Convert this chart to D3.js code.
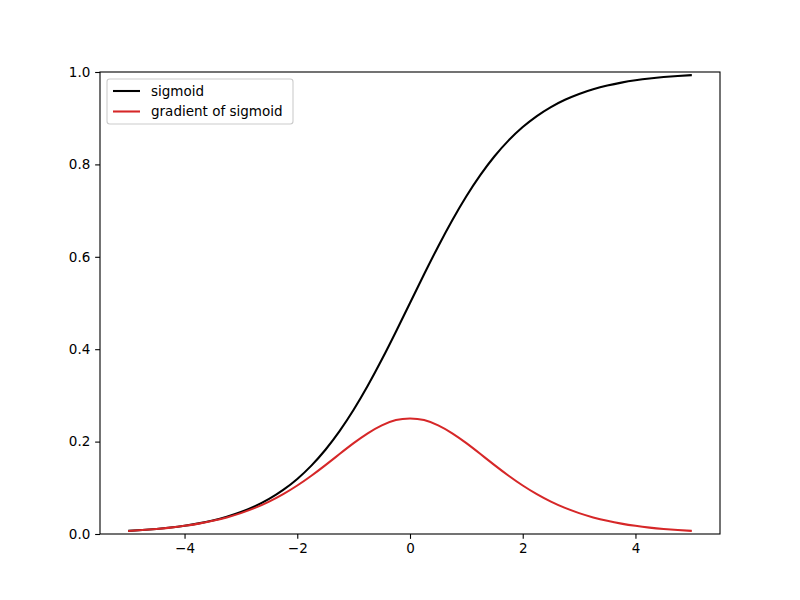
<!DOCTYPE html>
<html><head><meta charset="utf-8">
<script src="https://cdn.jsdelivr.net/npm/d3@7"></script>
<style>body{margin:0;background:#fff}svg text{font-family:"DejaVu Sans",sans-serif}</style>
</head><body>
<svg id="c" width="800" height="600"></svg>
<script>
const xs = [-5,-4.75,-4.5,-4.25,-4,-3.75,-3.5,-3.25,-3,-2.75,-2.5,-2.25,-2,-1.75,-1.5,-1.25,-1,-0.75,-0.5,-0.25,0,0.25,0.5,0.75,1,1.25,1.5,1.75,2,2.25,2.5,2.75,3,3.25,3.5,3.75,4,4.25,4.5,4.75,5];
const sigmoidVals = [0.00669,0.00858,0.01099,0.01406,0.01799,0.02298,0.02931,0.03732,0.04743,0.06008,0.07586,0.09535,0.11920,0.14805,0.18243,0.22270,0.26894,0.32082,0.37754,0.43782,0.5,0.56218,0.62246,0.67918,0.73106,0.77730,0.81757,0.85195,0.88080,0.90465,0.92414,0.93992,0.95257,0.96268,0.97069,0.97702,0.98201,0.98594,0.98901,0.99142,0.99331];
const gradientVals = [0.00665,0.00851,0.01087,0.01386,0.01766,0.02245,0.02845,0.03593,0.04518,0.05647,0.07010,0.08626,0.10499,0.12614,0.14915,0.17310,0.19661,0.21790,0.23500,0.24661,0.25,0.24661,0.23500,0.21790,0.19661,0.17310,0.14915,0.12614,0.10499,0.08626,0.07010,0.05647,0.04518,0.03593,0.02845,0.02245,0.01766,0.01386,0.01087,0.00851,0.00665];
const seriesNames = ["sigmoid","gradient of sigmoid"];
const seriesColors = ["#000000","#d62728"];
const xTicks = [-4,-2,0,2,4];
const yTicks = [0,0.2,0.4,0.6,0.8,1.0];

const L=100,R=720,T=72,B=534;
const svg=d3.select("#c");
const x=d3.scaleLinear().domain([-5.5,5.5]).range([L,R]);
const y=d3.scaleLinear().domain([0,1]).range([B,T]);
const fmtX=d=>d<0?"\u2212"+Math.abs(d):String(d);

const xAxis=svg.append("g").attr("transform",`translate(0,${B})`)
  .call(d3.axisBottom(x).tickValues(xTicks).tickFormat(fmtX).tickSize(4.86).tickPadding(4.86));
const yAxis=svg.append("g").attr("transform",`translate(${L},0)`)
  .call(d3.axisLeft(y).tickValues(yTicks).tickFormat(d3.format(".1f")).tickSize(4.86).tickPadding(4.86));
[xAxis,yAxis].forEach(a=>{a.select(".domain").remove();a.selectAll("text").attr("font-size","13.5px").attr("fill","#000").attr("font-family","DejaVu Sans");a.selectAll("line").attr("stroke","#000").attr("stroke-width",1.1);});

const series=[sigmoidVals,gradientVals];
const line=d3.line().x((d,i)=>x(xs[i])).y(d=>y(d)).curve(d3.curveNatural);
series.forEach((s,k)=>{
  svg.append("path").datum(s).attr("d",line).attr("fill","none").attr("stroke",seriesColors[k]).attr("stroke-width",2.08);
});

svg.append("rect").attr("x",L).attr("y",T).attr("width",R-L).attr("height",B-T).attr("fill","none").attr("stroke","#000").attr("stroke-width",1.1);

// legend
const lg=svg.append("g");
lg.append("rect").attr("x",107).attr("y",79).attr("width",186).attr("height",45).attr("rx",2.7)
  .attr("fill","#fff").attr("fill-opacity",0.8).attr("stroke","#cccccc").attr("stroke-width",1.1);
seriesNames.forEach((n,k)=>{
  const cy=91+k*20.5;
  lg.append("line").attr("x1",113).attr("x2",140).attr("y1",cy).attr("y2",cy).attr("stroke",seriesColors[k]).attr("stroke-width",2.08);
  lg.append("text").attr("x",151).attr("y",cy).attr("dy","0.35em").attr("font-size","13.5px").text(n);
});
</script>
</body></html>
